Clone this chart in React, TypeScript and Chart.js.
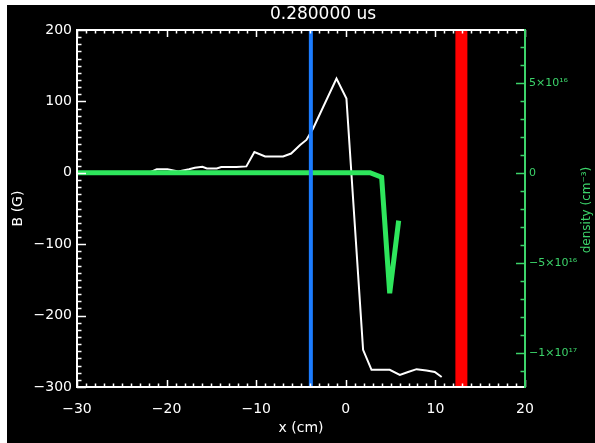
import React, { useEffect, useRef } from "react";
import { Chart, registerables } from "chart.js";

Chart.register(...registerables);

const TITLE = "0.280000 us";
const X_TITLE = "x (cm)";
const Y_TITLE = "B (G)";
const Y2_TITLE = "density (cm⁻³)";

// Magnetic field B (G) vs x (cm)
const bX = [-30, -22, -21.1, -19.9, -18.7, -17.5, -16.85, -16.0, -15.5, -14.4, -13.9, -12.2, -11.1, -10.2, -9.0, -7.0, -6.1, -5.1, -4.4, -3.65, -1.04, 0.07, 1.93, 2.87, 4.9, 6.03, 6.95, 7.9, 9.0, 9.93, 10.7];
const bY = [0, 0, 5, 5, 2, 5, 7, 8.5, 6, 6, 8, 8, 9, 29, 23, 23, 27, 39, 46, 62, 132, 104, -248, -276, -276, -283, -279, -275, -277, -279, -286];

// density (cm^-3) vs x (cm)
const nX = [-30, 2.7, 4.0, 4.9, 5.9];
const nY = [0, 0, -0.25e16, -6.69e16, -2.66e16];

// vertical markers (cm)
const blueX = -3.9;
const redX = 12.9;

const xRange = [-30, 20];
const yRange = [-300, 200];
const y2Range = [-1.19e17, 7.93e16];

const xTicks = [-30, -20, -10, 0, 10, 20];
const xTickLabels = ["−30", "−20", "−10", "0", "10", "20"];
const yTicks = [-300, -200, -100, 0, 100, 200];
const yTickLabels = ["−300", "−200", "−100", "0", "100", "200"];
const y2Ticks = [-1e17, -5e16, 0, 5e16];
const y2TickLabels = ["−1×10¹⁷", "−5×10¹⁶", "0", "5×10¹⁶"];

const xMinorStep = 1;
const xMajorStep = 10;
const yMinorStep = 10;
const yMajorStep = 100;
const y2MinorStep = 1e16;
const y2MajorStep = 5e16;

const WHITE = "#ffffff";
const GREEN = "#2ee65c";
const AXIS_GREEN = "#3cd36a";
const BLUE = "#1c7cff";
const RED = "#ff0000";
const FONT = "DejaVu Sans";

const framePlugin = {
  id: "frame",
  afterDatasetsDraw(chart: any) {
    const { ctx, chartArea } = chart;
    const { left, right, top, bottom } = chartArea;
    const sx = chart.scales.x;
    const sy = chart.scales.y;
    const sy2 = chart.scales.y2;
    ctx.save();
    ctx.lineWidth = 1.5;
    // x ticks (bottom and top, inward)
    ctx.strokeStyle = WHITE;
    for (let i = 0; xRange[0] + i * xMinorStep <= xRange[1] + 1e-9; i++) {
      const v = xRange[0] + i * xMinorStep;
      const major = Math.abs(v / xMajorStep - Math.round(v / xMajorStep)) < 1e-6;
      const len = major ? 7 : 3.5;
      const px = Math.round(sx.getPixelForValue(v)) + 0.5;
      ctx.beginPath();
      ctx.moveTo(px, bottom);
      ctx.lineTo(px, bottom - len);
      ctx.moveTo(px, top);
      ctx.lineTo(px, top + len);
      ctx.stroke();
    }
    // y ticks (left, inward)
    for (let i = 0; yRange[0] + i * yMinorStep <= yRange[1] + 1e-9; i++) {
      const v = yRange[0] + i * yMinorStep;
      const major = Math.abs(v / yMajorStep - Math.round(v / yMajorStep)) < 1e-6;
      const len = major ? 9 : 4.5;
      const py = Math.round(sy.getPixelForValue(v)) + 0.5;
      ctx.beginPath();
      ctx.moveTo(left, py);
      ctx.lineTo(left + len, py);
      ctx.stroke();
    }
    // y2 ticks (right, inward)
    ctx.strokeStyle = AXIS_GREEN;
    const startK = Math.ceil(y2Range[0] / y2MinorStep);
    const endK = Math.floor(y2Range[1] / y2MinorStep);
    for (let k = startK; k <= endK; k++) {
      const v = k * y2MinorStep;
      const major = Math.abs(v / y2MajorStep - Math.round(v / y2MajorStep)) < 1e-6;
      const len = major ? 9 : 4.5;
      const py = Math.round(sy2.getPixelForValue(v)) + 0.5;
      ctx.beginPath();
      ctx.moveTo(right, py);
      ctx.lineTo(right - len, py);
      ctx.stroke();
    }
    // frame
    ctx.lineWidth = 2;
    ctx.strokeStyle = WHITE;
    ctx.beginPath();
    ctx.moveTo(right, top);
    ctx.lineTo(left, top);
    ctx.lineTo(left, bottom);
    ctx.lineTo(right, bottom);
    ctx.stroke();
    ctx.strokeStyle = AXIS_GREEN;
    ctx.beginPath();
    ctx.moveTo(right, top - 1);
    ctx.lineTo(right, bottom + 1);
    ctx.stroke();
    // title
    ctx.fillStyle = WHITE;
    ctx.font = `17px "${FONT}"`;
    ctx.textAlign = "center";
    ctx.textBaseline = "middle";
    ctx.fillText(TITLE, 316, 10);
    // right axis title (reads bottom to top)
    ctx.fillStyle = AXIS_GREEN;
    ctx.font = `12px "${FONT}"`;
    ctx.translate(580, 205);
    ctx.rotate(-Math.PI / 2);
    ctx.fillText(Y2_TITLE, 0, 0);
    ctx.restore();
  },
};

export default function App() {
  const ref = useRef<HTMLCanvasElement>(null);
  useEffect(() => {
    const canvas = ref.current!;
    const toPts = (xs: number[], ys: number[]) => xs.map((x, i) => ({ x, y: ys[i] }));
    const chart = new Chart(canvas, {
      type: "line",
      data: {
        datasets: [
          {
            data: toPts(bX, bY),
            borderColor: WHITE,
            borderWidth: 2,
            pointRadius: 0,
            tension: 0,
            yAxisID: "y",
            order: 4,
          },
          {
            data: toPts(nX, nY),
            borderColor: GREEN,
            borderWidth: 5,
            pointRadius: 0,
            tension: 0,
            yAxisID: "y2",
            order: 3,
          },
          {
            data: [
              { x: blueX, y: yRange[0] },
              { x: blueX, y: yRange[1] },
            ],
            borderColor: BLUE,
            borderWidth: 4,
            pointRadius: 0,
            yAxisID: "y",
            order: 2,
          },
          {
            data: [
              { x: redX, y: yRange[0] },
              { x: redX, y: yRange[1] },
            ],
            borderColor: RED,
            borderWidth: 12,
            pointRadius: 0,
            yAxisID: "y",
            order: 1,
          },
        ],
      },
      options: {
        animation: false,
        responsive: false,
        devicePixelRatio: 1,
        events: [],
        layout: { padding: { top: 25, left: 0, right: 0, bottom: 0 } },
        plugins: {
          legend: { display: false },
          tooltip: { enabled: false },
          title: { display: false },
        },
        scales: {
          x: {
            type: "linear",
            position: "bottom",
            min: xRange[0],
            max: xRange[1],
            afterBuildTicks: (s: any) => {
              s.ticks = xTicks.map((v) => ({ value: v }));
            },
            afterFit: (s: any) => {
              s.height = 56;
            },
            ticks: {
              color: WHITE,
              font: { family: FONT, size: 14 },
              padding: 14,
              maxRotation: 0,
              autoSkip: false,
              callback: (_v: any, i: number) => xTickLabels[i],
            },
            grid: { display: false, drawTicks: false },
            border: { display: false },
            title: {
              display: true,
              text: X_TITLE,
              color: WHITE,
              font: { family: FONT, size: 14 },
              padding: { top: 0, bottom: 6 },
            },
          },
          y: {
            type: "linear",
            position: "left",
            min: yRange[0],
            max: yRange[1],
            afterBuildTicks: (s: any) => {
              s.ticks = yTicks.map((v) => ({ value: v }));
            },
            afterFit: (s: any) => {
              s.width = 70;
            },
            ticks: {
              color: WHITE,
              font: { family: FONT, size: 14 },
              padding: 5,
              autoSkip: false,
              callback: (_v: any, i: number) => yTickLabels[i],
            },
            grid: { display: false, drawTicks: false },
            border: { display: false },
            title: {
              display: true,
              text: Y_TITLE,
              color: WHITE,
              font: { family: FONT, size: 14 },
              padding: { top: 3, bottom: 0 },
            },
          },
          y2: {
            type: "linear",
            position: "right",
            min: y2Range[0],
            max: y2Range[1],
            afterBuildTicks: (s: any) => {
              s.ticks = y2Ticks.map((v) => ({ value: v }));
            },
            afterFit: (s: any) => {
              s.width = 70;
            },
            ticks: {
              color: AXIS_GREEN,
              font: { family: FONT, size: 11 },
              padding: 4,
              autoSkip: false,
              callback: (_v: any, i: number) => y2TickLabels[i],
            },
            grid: { display: false, drawTicks: false },
            border: { display: false },
          },
        },
      },
      plugins: [framePlugin],
    });
    return () => chart.destroy();
  }, []);
  return (
    <canvas
      ref={ref}
      width={588}
      height={438}
      style={{ position: "fixed", left: 7, top: 5, width: 588, height: 438, background: "#000", display: "block" }}
    />
  );
}
